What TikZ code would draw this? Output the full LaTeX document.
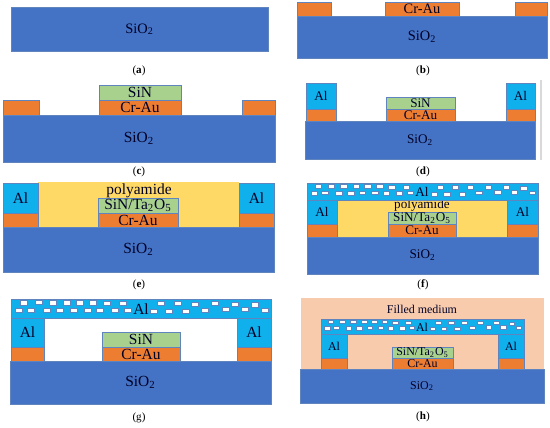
\documentclass[tikz,border=0pt]{standalone}
\usepackage{fontspec}
\setmainfont{Liberation Serif}
\usepackage{xcolor}
\definecolor{sioblue}{HTML}{4472C4}
\definecolor{edgeblue}{HTML}{5F84BE}
\definecolor{crcolor}{HTML}{ED7D31}
\definecolor{sincolor}{HTML}{A9D18E}
\definecolor{alcolor}{HTML}{0FB0EC}
\definecolor{polycolor}{HTML}{FFD966}
\definecolor{filledcolor}{HTML}{F8CBAD}
\tikzset{
  layer/.style={draw=edgeblue, line width=0.35pt},
  sio/.style={layer, fill=sioblue},
  crau/.style={layer, fill=crcolor},
  sinx/.style={layer, fill=sincolor},
  alu/.style={layer, fill=alcolor},
  hole/.style={draw=edgeblue, line width=0.2pt, fill=white},
  lbl/.style={inner sep=0pt, text=black!85!blue},
  caption/.style={inner sep=0pt, font=\fontsize{6.3}{7}\selectfont},
  sizeL/.style={every node/.append style={font=\fontsize{8.8}{9}\selectfont}},
  sizeM/.style={every node/.append style={font=\fontsize{8.2}{9}\selectfont}},
  sizeS/.style={every node/.append style={font=\fontsize{7.5}{8}\selectfont}},
  sizeT/.style={every node/.append style={font=\fontsize{6.8}{7}\selectfont}},
}
\newcommand{\sio}{SiO\textsubscript{2}}
\newcommand{\tao}{SiN/Ta\textsubscript{2}O\textsubscript{5}}
% holes of the porous Al film: left, top, width, height of the film
\newcommand{\alholes}[4]{
  \foreach \hx/\hy in {70/38,115/37,157/38,199/38,238/38,278/38,319/40,368/40,483/40,533/40,584/42,645/40,705/42,765/44,
    57/62,92/60,140/62,180/62,220/60,262/60,300/62,345/62,382/60,462/64,505/64,557/64,613/60,677/58,733/58,793/60} {
    \draw[hole] ({#1+(\hx-33)/780*#3-3.6*#3/260},{#2+(\hy-27)/58*#4-2.1*#4/19}) rectangle ++({7.2*#3/260},{4.2*#4/19});
  }
}
\begin{document}
\begin{tikzpicture}[x=0.02cm, y=-0.02cm]
  \useasboundingbox (0,0) rectangle (550,427);

  % (a)
  \begin{scope}[sizeM]
    \draw[sio] (11,7.5) rectangle node[lbl] (aoxide) {\sio} (268,51);
  \end{scope}
  \node[caption] (acap) at (139,71) {(\textbf{a})};

  % (b)
  \begin{scope}[sizeM]
    \draw[sio] (297,16) rectangle node[lbl] (boxide) {\sio} (547,58);
    \draw[crau] (297,2) rectangle (331,16);
    \draw[crau] (385,2) rectangle node[lbl] (bcr) {Cr-Au} (459,16);
    \draw[crau] (515,2) rectangle (547,16);
  \end{scope}
  \node[caption] (bcap) at (423,71) {(\textbf{b})};

  % (c)
  \begin{scope}[sizeL]
    \draw[sio] (3,115) rectangle node[lbl] (coxide) {\sio} (275,162);
    \draw[crau] (3,100) rectangle (39,115);
    \draw[crau] (99,100) rectangle node[lbl] (ccr) {Cr-Au} (181,115);
    \draw[crau] (242,100) rectangle (275,115);
    \draw[sinx] (99,85) rectangle node[lbl] (csin) {SiN} (181,100);
  \end{scope}
  \node[caption] (ccap) at (139,172) {(\textbf{c})};

  % (d)
  \begin{scope}[sizeS]
    \draw[sio] (305,121) rectangle node[lbl] (doxide) {\sio} (535,159);
    \foreach \px/\qx/\nm in {306/336/dl,506/535/dr} {
      \draw[crau] (\px,109) rectangle (\qx,121);
      \draw[alu] (\px,83) rectangle node[lbl] (\nm) {Al} (\qx,109);
    }
    \draw[crau] (386,109) rectangle node[lbl] (dcr) {Cr-Au} (455,121);
    \draw[sinx] (386,97) rectangle node[lbl] (dsin) {SiN} (455,109);
  \end{scope}
  \draw[black!15, line width=0.6pt] (541,80) -- (541,160);
  \node[caption] (dcap) at (423,172) {(\textbf{d})};

  % (e)
  \begin{scope}[sizeL]
    \fill[polycolor] (38,182) rectangle (239,227);
    \draw[sio] (3,227) rectangle node[lbl] (eoxide) {\sio} (274,272);
    \foreach \px/\qx/\nm in {3/38/el,239/274/er} {
      \draw[crau] (\px,213) rectangle (\qx,227);
      \draw[alu] (\px,183) rectangle node[lbl] (\nm) {Al} (\qx,213);
    }
    \draw[crau] (98,213) rectangle node[lbl] (ecr) {Cr-Au} (178,227);
    \draw[sinx] (98,198) rectangle node[lbl] (esin) {\tao} (178,213);
    \node[lbl] (epoly) at (139,190.5) {polyamide};
  \end{scope}
  \node[caption] (ecap) at (139,285) {(\textbf{e})};

  % (f)
  \begin{scope}[sizeS]
    \fill[polycolor] (337,200) rectangle (507,237);
    \draw[sio] (307,237) rectangle node[lbl] (foxide) {\sio} (538,274);
    \foreach \px/\qx/\nm in {307/337/fl,507/538/fr} {
      \draw[crau] (\px,224) rectangle (\qx,237);
      \draw[alu] (\px,200) rectangle node[lbl] (\nm) {Al} (\qx,224);
    }
    \draw[crau] (388,224) rectangle node[lbl] (fcr) {Cr-Au} (456,237);
    \draw[sinx] (388,212) rectangle node[lbl] (fsin) {\tao} (456,224);
    \node[lbl] (fpoly) at (422,205.5) {polyamide};
    \draw[alu] (307,183) rectangle (538,200);
    \alholes{307}{183}{231}{17}
    \node[lbl] (ftop) at (422,191.5) {Al};
  \end{scope}
  \node[caption] (fcap) at (423,285) {(\textbf{f})};

  % (g)
  \begin{scope}[sizeL]
    \draw[sio] (10,361) rectangle node[lbl] (goxide) {\sio} (271,404);
    \foreach \px/\qx/\nm in {11/44/gl,237/271/gr} {
      \draw[crau] (\px,347) rectangle (\qx,361);
      \draw[alu] (\px,318) rectangle node[lbl] (\nm) {Al} (\qx,347);
    }
    \draw[crau] (102,347) rectangle node[lbl] (gcr) {Cr-Au} (180,361);
    \draw[sinx] (102,332) rectangle node[lbl] (gsin) {SiN} (180,347);
    \draw[alu] (11,299) rectangle (271,318);
    \alholes{11}{299}{260}{19}
    \node[lbl] (gtop) at (141,309.5) {Al};
  \end{scope}
  \node[caption] (gcap) at (139,418) {(g)};

  % (h)
  \begin{scope}[sizeT]
    \fill[filledcolor] (301,298) rectangle (544,369);
    \draw[sio] (300,369) rectangle node[lbl] (hoxide) {\sio} (544,403);
    \foreach \px/\qx/\nm in {321/347/hl,498/524/hr} {
      \draw[crau] (\px,358) rectangle (\qx,369);
      \draw[alu] (\px,334) rectangle node[lbl] (\nm) {Al} (\qx,358);
    }
    \draw[crau] (392,358) rectangle node[lbl] (hcr) {Cr-Au} (453,369);
    \draw[sinx] (392,347) rectangle node[lbl] (hsin) {\tao} (453,358);
    \draw[alu] (321,319) rectangle (524,334);
    \alholes{321}{319}{203}{15}
    \node[lbl] (htop) at (422,327) {Al};
    \node[lbl] (hmed) at (422,309.5) {Filled medium};
  \end{scope}
  \node[caption] (hcap) at (423,417) {(\textbf{h})};
\end{tikzpicture}
\end{document}
